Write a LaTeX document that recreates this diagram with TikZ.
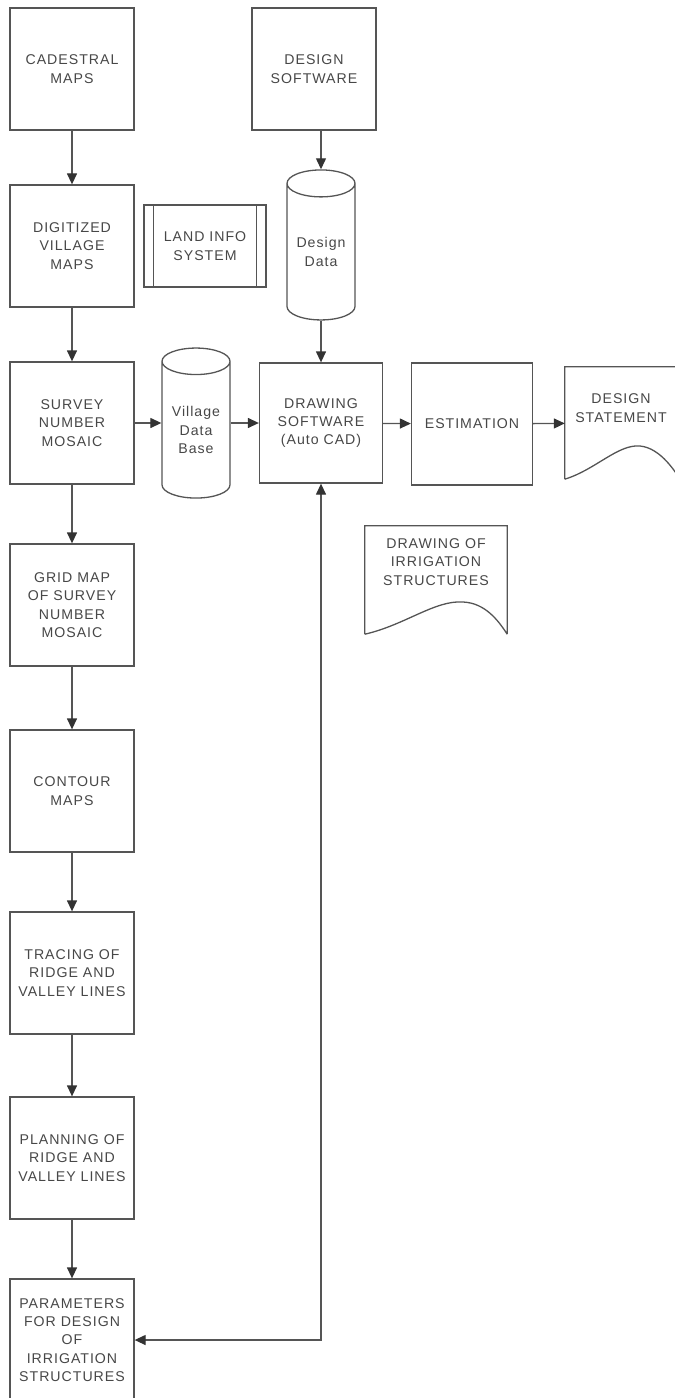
\documentclass[tikz,border=0pt]{standalone}
\usepackage{fontspec}
\setmainfont{Liberation Sans}[LetterSpace=7]
\usetikzlibrary{arrows.meta,shapes.geometric}

\definecolor{inkgray}{HTML}{474747}
\definecolor{linegray}{HTML}{555555}
\definecolor{tipgray}{HTML}{333333}

\begin{document}
\begin{tikzpicture}[x=1bp,y=-1bp,
                font=\fontsize{14.2}{18.5}\selectfont,text=inkgray,
                box/.style={draw=linegray,line width=1.3bp,minimum width=124bp,minimum height=122bp,align=center,inner sep=0pt},
                base/.style={draw=linegray,line width=1.3bp,cylinder,shape border rotate=90,aspect=0.55,minimum width=68bp,minimum height=150bp,align=center,inner sep=0pt},
                doc/.style={minimum width=124bp,minimum height=112bp,inner sep=0pt},
                line/.style={draw=linegray,line width=1.3bp},
                tip/.tip={Triangle[length=11bp,width=10bp,color=tipgray]},
                link/.style={line,-tip}]
                \useasboundingbox (0,0) rectangle (675,1398);
                \clip (0,0) rectangle (675,1398);
                \node[box] (cad) at (72,69) {CADESTRAL\\MAPS};
                \node[box] (dig) at (72,246) {DIGITIZED\\VILLAGE\\MAPS};
                \node[box] (sur) at (72,423) {SURVEY\\NUMBER\\MOSAIC};
                \node[box] (grid) at (72,605) {GRID MAP\\OF SURVEY\\NUMBER\\MOSAIC};
                \node[box] (cont) at (72,791) {CONTOUR\\MAPS};
                \node[box] (trac) at (72,973) {TRACING OF\\RIDGE AND\\VALLEY LINES};
                \node[box] (plan) at (72,1158) {PLANNING OF\\RIDGE AND\\VALLEY LINES};
                \node[box] (par) at (72,1340) {PARAMETERS\\FOR DESIGN\\OF\\IRRIGATION\\STRUCTURES};
                \node[box,minimum width=122bp,minimum height=82bp] (lis) at (205,246) {LAND INFO\\SYSTEM};
                \draw[line] ([xshift=10bp]lis.north west) -- ([xshift=10bp]lis.south west)
                            ([xshift=-10bp]lis.north east) -- ([xshift=-10bp]lis.south east);
                \node[box] (dsw) at (314,69) {DESIGN\\SOFTWARE};
                \node[base] (dd) at (321,252) {Design\\Data};
                \node[base] (vdb) at (196,430) {Village\\Data\\Base};
                \node[box,minimum width=123bp,minimum height=120bp] (drw) at (321,423) {DRAWING\\SOFTWARE\\(Auto CAD)};
                \node[box,minimum width=121bp] (est) at (472,424) {ESTIMATION};
                \node[doc] (stm) at (627,423) {};
                \node[align=center] (stmtxt) at ([xshift=-6bp,yshift=15bp]stm.center) {DESIGN\\STATEMENT};
                \draw[line] (stm.south west) |- (stm.north east) -- ++(0,80)
                            (stm.south west) .. controls (595,470) and (618,444) .. (640,446)
                            .. controls (660,448) and (676,470) .. (689,495);
                \node[doc,minimum width=142bp,minimum height=108bp] (irr) at (436,580) {};
                \node[align=center] (irrtxt) at ([yshift=18bp]irr.center) {DRAWING OF\\IRRIGATION\\STRUCTURES};
                \draw[line] (irr.south west) |- (irr.north east) -- (irr.south east)
                            (irr.south west) .. controls (405,625) and (435,600) .. (463,602)
                            .. controls (485,603) and (498,620) .. (irr.south east);
                \draw[link] (cad) -- (dig);
                \draw[link] (dig) -- (sur);
                \draw[link] (sur) -- (grid);
                \draw[link] (grid) -- (cont);
                \draw[link] (cont) -- (trac);
                \draw[link] (trac) -- (plan);
                \draw[link] (plan) -- (par);
                \draw[link] (dd.north |- dsw.south) -- (dd.north);
                \draw[link] (dd.south) -- (dd.south |- drw.north);
                \draw[link] (sur.east) -- (sur.east -| vdb.west);
                \draw[link] (vdb.east |- drw.west) -- (drw.west);
                \draw[link] (drw) -- (est);
                \draw[link] (est) -- (stm);
                \draw[line,tip-tip] (par.east) -| (drw.south);
\end{tikzpicture}
\end{document}
